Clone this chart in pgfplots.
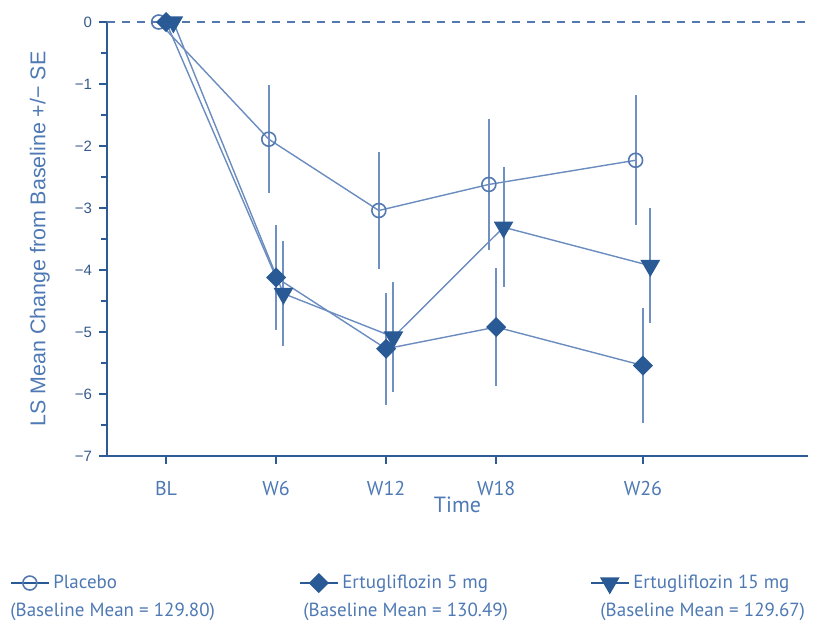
\documentclass[border=0pt]{standalone}
\usepackage{pgfplots}
\pgfplotsset{compat=1.18}
\usepackage{fontspec}
\setmainfont{Liberation Sans}
\newfontfamily\narrowfont{PT Sans}

\definecolor{axisblue}{HTML}{2D5B96}
\definecolor{markblue}{HTML}{2A5A95}
\definecolor{lineblue}{HTML}{6A8CBE}
\definecolor{errblue}{HTML}{6F90C0}
\definecolor{circblue}{HTML}{5479B0}
\definecolor{textblue}{HTML}{4E79B4}
\definecolor{ticktext}{HTML}{36598B}

\begin{document}
\begin{tikzpicture}
\begin{axis}[
  scale only axis, width=350.5pt, height=217pt,
  xmin=-3.22, xmax=35, ymin=-7, ymax=0,
  clip=false,
  axis x line*=bottom, axis y line*=left,
  axis line style={axisblue, line width=1.3pt},
  xtick={0,6,12,18,26}, xticklabels={BL,W6,W12,W18,W26},
  ytick={0,-1,-2,-3,-4,-5,-6,-7},
  yticklabels={0,−1,−2,−3,−4,−5,−6,−7},
  minor y tick num=1,
  tick align=outside, major tick length=4pt, minor tick length=3pt,
  tick style={axisblue, line width=1.2pt},
  yticklabel style={font=\fontsize{7.5}{9}\selectfont, text=ticktext},
  xticklabel style={font=\narrowfont\fontsize{10}{12}\selectfont, text=textblue, yshift=-5pt},
  xlabel={Time},
  xlabel style={at={(axis description cs:0.5,-0.113)}, anchor=center,
    font=\narrowfont\fontsize{11}{13}\selectfont, text=textblue},
  ylabel={LS Mean Change from Baseline +/− SE},
  ylabel style={at={(axis description cs:-0.0956,0.5)}, anchor=center,
    font=\fontsize{10.7}{12}\selectfont, text=textblue},
  legend style={at={(axis description cs:-0.1384,-0.2926)}, anchor=west,
    draw=none, fill=none, inner sep=0pt, legend columns=3,
    font=\narrowfont\fontsize{9.5}{11}\selectfont, text=textblue},
  legend cell align=left,
  legend image code/.code={\draw[mark repeat=2, mark phase=2, markblue]
    plot coordinates {(0cm,0cm) (0.33cm,0cm) (0.66cm,0cm)};},
  error bars/y dir=both, error bars/y explicit, error bars/error mark=none,
  error bars/error bar style={errblue, line width=1pt},
]
% reference line at zero change
\addplot[circblue, line width=0.8pt, dash pattern=on 4pt off 3.5pt, forget plot]
  coordinates {(-3.22,0) (35,0)};

% Placebo
\addplot[lineblue, line width=0.7pt, mark=o, mark size=3.5pt,
  mark options={draw=circblue, line width=0.8pt, fill=none}]
  coordinates {
    (-0.4,0) +- (0,0)
    (5.6,-1.89) +- (0,0.87)
    (11.6,-3.04) +- (0,0.94)
    (17.6,-2.62) +- (0,1.06)
    (25.6,-2.23) +- (0,1.05)
  };
\addlegendentry{\makebox[121pt][l]{Placebo}}

% Ertugliflozin 5 mg
\addplot[lineblue, line width=0.7pt, mark=square*, mark size=3.2pt,
  mark options={draw=markblue, fill=markblue, rotate=45, solid}]
  coordinates {
    (0,0) +- (0,0)
    (6,-4.12) +- (0,0.85)
    (12,-5.27) +- (0,0.90)
    (18,-4.92) +- (0,0.95)
    (26,-5.54) +- (0,0.92)
  };
\addlegendentry{\makebox[122pt][l]{Ertugliflozin 5 mg}}

% Ertugliflozin 15 mg
\addplot[lineblue, line width=0.7pt, mark=triangle*, mark size=5pt,
  mark options={draw=markblue, fill=markblue, rotate=180, solid}]
  coordinates {
    (0.4,0) +- (0,0)
    (6.4,-4.38) +- (0,0.85)
    (12.4,-5.08) +- (0,0.89)
    (18.4,-3.31) +- (0,0.97)
    (26.4,-3.93) +- (0,0.93)
  };
\addlegendentry{Ertugliflozin 15 mg}

\node[anchor=west, font=\narrowfont\fontsize{9.5}{11}\selectfont, text=textblue, inner sep=0pt]
  at (rel axis cs:-0.1384,-0.3594) {(Baseline Mean = 129.80)};
\node[anchor=west, font=\narrowfont\fontsize{9.5}{11}\selectfont, text=textblue, inner sep=0pt]
  at (rel axis cs:0.2796,-0.3594) {(Baseline Mean = 130.49)};
\node[anchor=west, font=\narrowfont\fontsize{9.5}{11}\selectfont, text=textblue, inner sep=0pt]
  at (rel axis cs:0.7033,-0.3594) {(Baseline Mean = 129.67)};

\coordinate (bbSW) at (rel axis cs:-0.1526,-0.3848);
\coordinate (bbNE) at (rel axis cs:1.0342,1.0507);
\end{axis}
\pgfresetboundingbox
\path (bbSW) rectangle (bbNE);
\end{tikzpicture}
\end{document}
